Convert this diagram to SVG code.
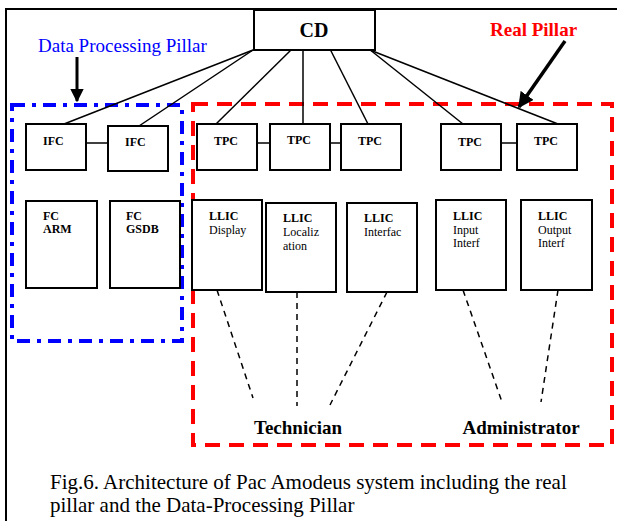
<svg xmlns="http://www.w3.org/2000/svg" width="617" height="521" viewBox="0 0 617 521">
<defs>
<style>
text{font-family:"Liberation Serif","Times New Roman",serif;fill:#000}
.box{fill:#fff;stroke:#000;stroke-width:2}
.b{font-weight:bold;font-size:12px}
.n{font-size:12px}
.ln{stroke:#000;stroke-width:1.5;fill:none}
.dl{stroke:#000;stroke-width:1.5;fill:none;stroke-dasharray:6 5}
</style>
<marker id="ah" viewBox="0 0 10 10" refX="9" refY="5" markerWidth="4.5" markerHeight="4.5" orient="auto" markerUnits="strokeWidth">
<path d="M0,0 L10,5 L0,10 Z" fill="#000"/>
</marker>
</defs>
<rect width="617" height="521" fill="#fff"/>
<path d="M617,9 H6 V521" fill="none" stroke="#000" stroke-width="2"/>

<g id="pillars">
<rect x="12" y="105" width="170" height="236" fill="none" stroke="#0000ff" stroke-width="4" stroke-dasharray="13 7 4 7"/>
<rect x="193" y="104" width="419" height="341" fill="none" stroke="#ff0000" stroke-width="4" stroke-dasharray="15 9"/>
</g>

<g id="labels">
<text x="38" y="52" font-size="19" style="fill:#0000ff">Data Processing Pillar</text>
<text x="490" y="36" font-size="19" font-weight="bold" style="fill:#ff0000">Real Pillar</text>
<line x1="77" y1="57" x2="77" y2="101" stroke="#000" stroke-width="3" marker-end="url(#ah)"/>
<line x1="565" y1="41" x2="519" y2="107" stroke="#000" stroke-width="3.5" marker-end="url(#ah)"/>
</g>

<g id="connectors">
<line class="ln" x1="253" y1="50" x2="64" y2="124"/>
<line class="ln" x1="253" y1="50" x2="139" y2="126"/>
<line class="ln" x1="292" y1="49" x2="216" y2="124"/>
<line class="ln" x1="303" y1="49" x2="303" y2="124"/>
<line class="ln" x1="330" y1="49" x2="368" y2="124"/>
<line class="ln" x1="369" y1="49" x2="463" y2="124"/>
<line class="ln" x1="370" y1="50" x2="558" y2="124"/>
<line class="ln" x1="86" y1="143" x2="108" y2="143"/>
<line class="ln" x1="254" y1="143" x2="273" y2="143"/>
<line class="ln" x1="330" y1="143" x2="341" y2="143"/>
<line class="ln" x1="501" y1="143" x2="520" y2="143"/>
<line class="dl" x1="217" y1="290" x2="253" y2="398"/>
<line class="dl" x1="297" y1="292" x2="297" y2="406"/>
<line class="dl" x1="387" y1="292" x2="330" y2="405"/>
<line class="dl" x1="463" y1="290" x2="502" y2="402"/>
<line class="dl" x1="558" y1="290" x2="541" y2="402"/>
</g>

<g id="cd">
<rect class="box" x="254" y="10" width="121" height="40"/>
<text x="314" y="37" font-size="20" font-weight="bold" text-anchor="middle">CD</text>
</g>

<g id="ifc1"><rect class="box" x="26" y="124" width="60" height="46"/><text class="b" x="43" y="145">IFC</text></g>
<g id="ifc2"><rect class="box" x="108" y="126" width="60" height="45"/><text class="b" x="125" y="146">IFC</text></g>
<g id="tpc1"><rect class="box" x="197" y="124" width="60" height="46"/><text class="b" x="214" y="145">TPC</text></g>
<g id="tpc2"><rect class="box" x="270" y="124" width="60" height="46"/><text class="b" x="287" y="144">TPC</text></g>
<g id="tpc3"><rect class="box" x="341" y="124" width="60" height="46"/><text class="b" x="358" y="145">TPC</text></g>
<g id="tpc4"><rect class="box" x="441" y="124" width="60" height="46"/><text class="b" x="458" y="146">TPC</text></g>
<g id="tpc5"><rect class="box" x="517" y="124" width="60" height="46"/><text class="b" x="534" y="145">TPC</text></g>

<g id="fc-arm"><rect class="box" x="26" y="201" width="71" height="87"/><text class="b" x="43" y="220">FC</text><text class="b" x="43" y="233">ARM</text></g>
<g id="fc-gsdb"><rect class="box" x="110" y="201" width="70" height="87"/><text class="b" x="126" y="220">FC</text><text class="b" x="126" y="233">GSDB</text></g>
<g id="llic-display"><rect class="box" x="192" y="200" width="70" height="90"/><text class="b" x="209" y="220">LLIC</text><text class="n" x="209" y="234">Display</text></g>
<g id="llic-localization"><rect class="box" x="266" y="203" width="70" height="89"/><text class="b" x="283" y="222">LLIC</text><text class="n" x="283" y="236">Localiz</text><text class="n" x="283" y="250">ation</text></g>
<g id="llic-interfac"><rect class="box" x="347" y="203" width="70" height="89"/><text class="b" x="364" y="222">LLIC</text><text class="n" x="364" y="236">Interfac</text></g>
<g id="llic-input"><rect class="box" x="436" y="200" width="70" height="90"/><text class="b" x="453" y="220">LLIC</text><text class="n" x="453" y="234">Input</text><text class="n" x="453" y="247">Interf</text></g>
<g id="llic-output"><rect class="box" x="521" y="200" width="71" height="90"/><text class="b" x="538" y="220">LLIC</text><text class="n" x="538" y="234">Output</text><text class="n" x="538" y="247">Interf</text></g>

<g id="technician"><text x="298" y="434" font-size="19" font-weight="bold" text-anchor="middle">Technician</text></g>
<g id="administrator"><text x="521" y="434" font-size="19" font-weight="bold" text-anchor="middle">Administrator</text></g>

<g id="caption">
<text x="50" y="489" font-size="21">Fig.6. Architecture of Pac Amodeus system including the real</text>
<text x="50" y="512" font-size="21">pillar and the Data-Processing Pillar</text>
</g>
</svg>
